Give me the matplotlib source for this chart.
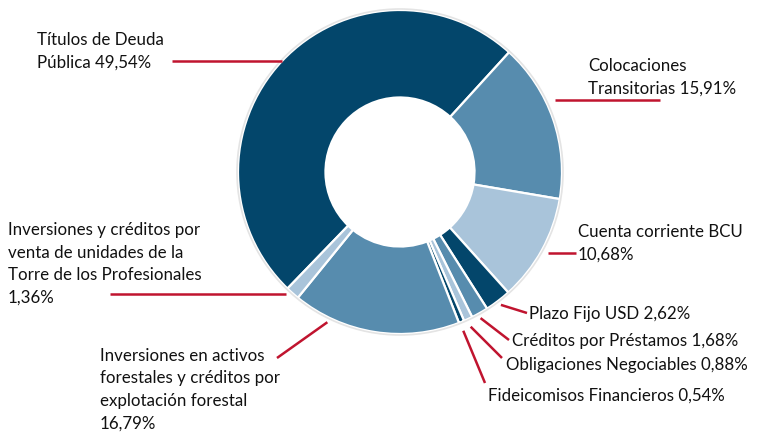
import numpy as np
import matplotlib.pyplot as plt

# Data (percent of portfolio)
labels = ["Títulos de Deuda\nPública 49,54%",
          "Colocaciones\nTransitorias 15,91%",
          "Cuenta corriente BCU\n10,68%",
          "Plazo Fijo USD 2,62%",
          "Créditos por Préstamos 1,68%",
          "Obligaciones Negociables 0,88%",
          "Fideicomisos Financieros 0,54%",
          "Inversiones en activos\nforestales y créditos por\nexplotación forestal\n16,79%",
          "Inversiones y créditos por\nventa de unidades de la\nTorre de los Profesionales\n1,36%"]
values = [49.54, 15.91, 10.68, 2.62, 1.68, 0.88, 0.54, 16.79, 1.36]

dark = "#03466B"
mid = "#578CAE"
light = "#A9C4DA"
colors = [dark, mid, light, dark, mid, light, dark, mid, light]
red = "#C0142F"
txt = "#111111"

# Layout in pixel units (y measured from the top of the image)
W, H = 760, 433
cx, cy, R = 400, 172, 162
hole = 0.46
start_angle = 226

# label: text x, first line y, leader anchor (fraction along slice, radius factor), leader end
text_pos = [(37, 38), (588, 64), (578, 230), (529, 312), (512, 339),
            (506, 363), (488, 394), (100, 354), (8, 228)]
leader_frac = [0.5, 0.40, 0.5, 0.5, 0.6, 0.6, 0.8, 0.78, 0.85]
leader_rad = [1.0, 1.055, 1.04, 1.03, 1.03, 1.05, 1.055, 1.03, 1.03]
leader_end = [(172, None), (660, None), (576, None), (527, 313), (509, 340),
              (502, 358), (485, 383), (277, 358), (110, None)]

plt.rcParams['font.family'] = ['Lato', 'DejaVu Sans']

fig = plt.figure(figsize=(W / 100, H / 100), dpi=100)
ax = fig.add_axes([0, 0, 1, 1])

wedges, _ = ax.pie(values, colors=colors, startangle=start_angle, counterclock=False,
                   center=(cx, H - cy), radius=R,
                   wedgeprops=dict(width=R * (1 - hole), edgecolor="white", linewidth=1.6))
ax.add_patch(plt.Circle((cx, H - cy), R + 1, fill=False, edgecolor="#e4e4e4", linewidth=1.2))

ax.set_xlim(0, W)
ax.set_ylim(0, H)
ax.set_aspect("equal")
ax.axis("off")

total = sum(values)
a0 = start_angle
for i, v in enumerate(values):
    span = v / total * 360
    ang = np.deg2rad(a0 - leader_frac[i] * span)
    a0 -= span
    sx = cx + R * leader_rad[i] * np.cos(ang)
    sy = (H - cy) + R * leader_rad[i] * np.sin(ang)
    ex, ey = leader_end[i]
    ey = sy if ey is None else H - ey
    ax.plot([sx, ex], [sy, ey], color=red, linewidth=1.8, solid_capstyle="butt")

    # va='top' box starts a few px above the first line centre
    tx, ty = text_pos[i]
    ax.text(tx, H - ty + 6, labels[i], ha="left", va="top", fontsize=12.2, color=txt,
            linespacing=1.5)

fig.savefig("out.png", dpi=100)
